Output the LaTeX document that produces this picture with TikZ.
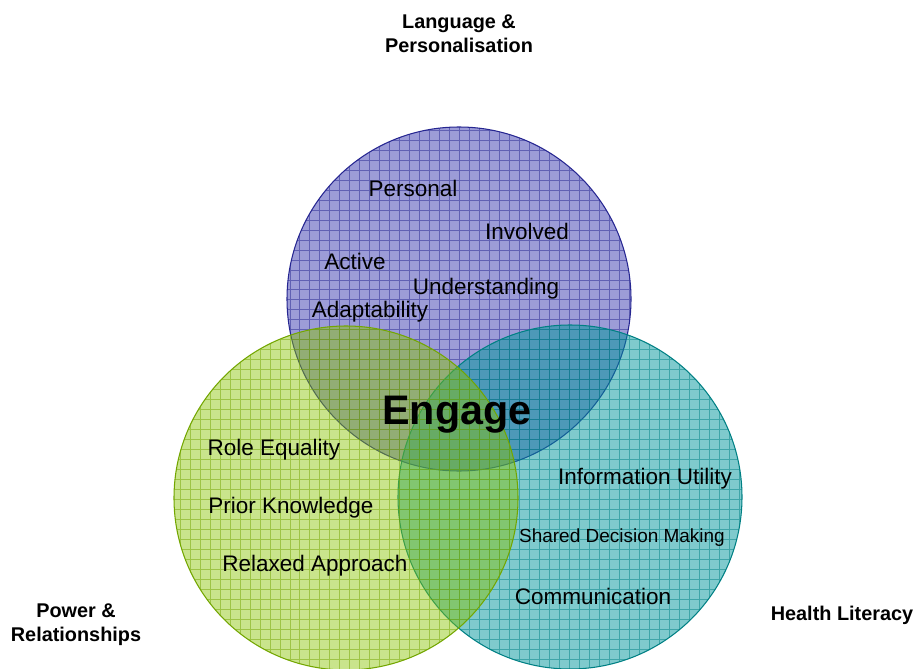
\documentclass[tikz,border=0pt]{standalone}
\usepackage{fontspec}
\setmainfont{Liberation Sans}
\definecolor{lilac}{RGB}{45,45,170}
\definecolor{sea}{RGB}{0,150,155}
\definecolor{lime}{RGB}{135,195,0}

\begin{document}
\begin{tikzpicture}[x=0.02cm,y=-0.02cm,
  word/.style={font=\fontsize{12.8}{15}\selectfont},
  heading/.style={font=\fontsize{11.3}{13.6}\selectfont\bfseries,align=center}]
\useasboundingbox (0,0) rectangle (917,669);
\coordinate (lang) at (459,299);
\coordinate (health) at (570,497);
\coordinate (power) at (346,498);
\foreach \c/\col/\op in {lang/lilac/0.47,health/sea/0.5,power/lime/0.45}{
  \begin{scope}
  \clip (\c) circle (172);
  \fill[\col,fill opacity=\op] (\c) circle (172);
  \draw[\col!85!black,opacity=0.5,line width=0.5pt,step=0.2cm] (\c) ++(-180,180) grid ++(360,-360);
  \end{scope}
  \draw[\col!85!black,line width=0.6pt] (\c) circle (172);
}
\node[word] (personal) at (413,188) {Personal};
\node[word] (involved) at (527,231) {Involved};
\node[word] (active) at (355,261) {Active};
\node[word] (understanding) at (486,289) {Understanding};
\node[word] (adaptability) at (370,312) {Adaptability};
\node[font=\fontsize{23.5}{28}\selectfont\bfseries] (engage) at (457,415) {Engage};
\node[word] (role) at (274,450) {Role Equality};
\node[word] (prior) at (291,508) {Prior Knowledge};
\node[word] (relaxed) at (315,566) {Relaxed Approach};
\node[word] (info) at (645,479) {Information Utility};
\node[font=\fontsize{10.8}{13}\selectfont] (shared) at (622,538) {Shared Decision Making};
\node[word] (comm) at (593,596) {Communication};
\node[heading] (langlabel) at (459,34) {Language \&\\Personalisation};
\node[heading] (powerlabel) at (76,625) {Power \&\\Relationships};
\node[heading] (healthlabel) at (842,615) {Health Literacy};
\end{tikzpicture}
\end{document}
